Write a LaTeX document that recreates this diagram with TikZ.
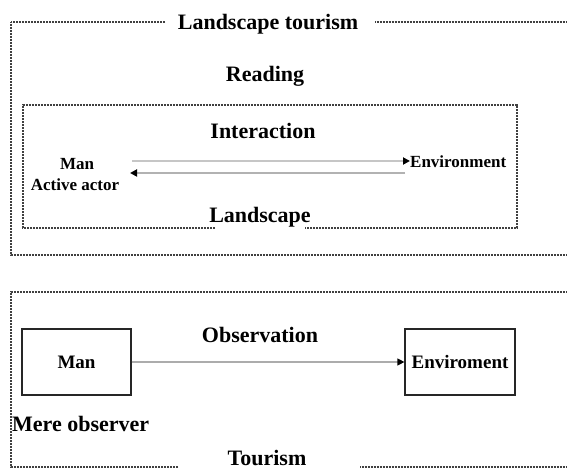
\documentclass[tikz,border=0pt]{standalone}
\usepackage{fontspec}
\setmainfont{Liberation Serif}
\usetikzlibrary{arrows.meta}
\begin{document}
\begin{tikzpicture}[x=1pt,y=-1pt,
  frame/.style={draw=black!75, line width=1.1pt, dash pattern=on 0.9pt off 0.6pt},
  big/.style={font=\bfseries\fontsize{22}{24}\selectfont, inner sep=0pt},
  small/.style={font=\bfseries\fontsize{17}{19}\selectfont, inner sep=0pt},
  tip/.style={-{Triangle[length=7pt,width=7pt,black]}},
  boxn/.style={draw=black!85, line width=1.2pt, minimum width=109pt, minimum height=66pt, inner sep=0pt, font=\bfseries\fontsize{19}{21}\selectfont},
]
\useasboundingbox (0,0) rectangle (567,470);

% top frame
\draw[frame] (165,22) -- (11,22) -- (11,255) -- (567,255);
\draw[frame] (375,22) -- (567,22);
\node[big, anchor=base] (title) at (268,30) {Landscape tourism};
\node[big, anchor=base] (reading) at (265,82) {Reading};

% inner frame
\draw[frame] (215,228) -- (23,228) -- (23,105) -- (517,105) -- (517,228) -- (305,228);
\node[big, anchor=base] (interaction) at (263,139) {Interaction};
\node[big, anchor=base] (landscape) at (260,223) {Landscape};
\node[small, anchor=base] (man1) at (77,170) {Man};
\node[small, anchor=base] (actor) at (75,191) {Active actor};
\node[small, anchor=base west] (env1) at (410,168) {Environment};
\coordinate (a1s) at (132,161);
\coordinate (a2s) at (405,173);
\coordinate (a2e) at (130,173);
\draw[gray!45, line width=2.4pt, tip] (a1s) -- (env1.west |- a1s);
\draw[gray!60, line width=2.4pt, tip] (a2s) -- (a2e);

% bottom frame
\draw[frame] (178,467) -- (11,467) -- (11,292) -- (567,292);
\draw[frame] (360,467) -- (567,467);
\node[big, anchor=base] (tourism) at (267,465) {Tourism};
\node[big, anchor=base] (observation) at (260,342) {Observation};
\node[boxn] (man2) at (76.5,362) {Man};
\node[boxn, minimum width=110pt] (env2) at (460,362) {Enviroment};
\draw[gray!65, line width=1.2pt, tip] (man2.east) -- (env2.west);
\node[big, anchor=base west] (mere) at (12,431) {Mere observer};
\end{tikzpicture}
\end{document}
